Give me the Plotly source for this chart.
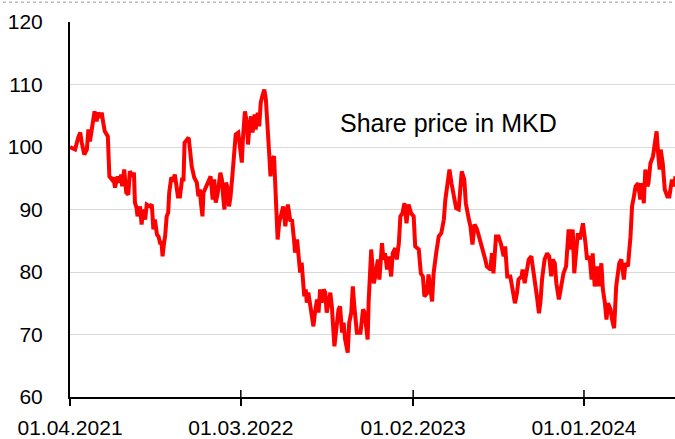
import pandas as pd
import plotly.graph_objects as go

start_date = "2021-04-01"
# days after start date
day_offset = [0, 10, 16, 20, 23, 28, 33, 36, 39, 42, 46, 48, 52, 55, 59, 62, 65, 68, 74, 75,
              77, 82, 85, 88, 93, 97, 100, 102, 106, 110, 114, 117, 123, 125, 127, 130, 132, 137, 140, 143,
              147, 150, 156, 160, 163, 166, 170, 173, 176, 179, 181, 184, 186, 189, 192, 194, 198, 202, 205, 211,
              215, 219, 222, 224, 228, 232, 235, 238, 243, 248, 251, 254, 256, 259, 261, 264, 271, 275, 279, 282,
              285, 289, 294, 297, 300, 302, 305, 309, 311, 314, 318, 321, 324, 329, 333, 336, 338, 342, 346, 348,
              351, 354, 357, 361, 363, 367, 370, 373, 376, 380, 383, 387, 389, 392, 395, 399, 401, 404, 406, 409,
              413, 417, 421, 426, 431, 434, 438, 440, 444, 447, 450, 453, 455, 458, 461, 463, 466, 470, 473, 476,
              479, 483, 486, 489, 492, 496, 499, 502, 509, 512, 517, 520, 525, 528, 532, 535, 538, 543, 546, 550,
              553, 556, 561, 568, 573, 576, 582, 584, 589, 594, 597, 602, 605, 610, 613, 616, 620, 623, 628, 631,
              636, 639, 643, 646, 650, 654, 658, 662, 667, 672, 675, 682, 686, 690, 693, 698, 701, 708, 711, 716,
              721, 726, 731, 734, 737, 742, 746, 750, 755, 760, 763, 766, 771, 774, 780, 783, 787, 791, 796, 800,
              806, 812, 815, 822, 825, 828, 833, 838, 843, 848, 851, 855, 861, 864, 870, 874, 877, 883, 885, 889,
              894, 897, 902, 905, 910, 913, 917, 920, 923, 928, 933, 937, 941, 944, 948, 951, 956, 961, 965, 970,
              975, 980, 983, 986, 990, 993, 997, 1003, 1008, 1011, 1016, 1020, 1022, 1026, 1031, 1034, 1039, 1042, 1046, 1049,
              1052, 1057, 1060, 1064, 1068, 1071, 1074, 1078, 1083, 1086, 1091, 1096, 1099, 1102, 1106, 1111, 1115, 1119, 1122, 1125,
              1129, 1131, 1135, 1140, 1147, 1150, 1153, 1155, 1159, 1163, 1168, 1172, 1177, 1181, 1184]
price = [100.0, 99.6, 101.5, 102.3, 100.7, 98.8, 99.6, 102.8, 100.9, 102.8, 105.5, 105.7, 104.1, 105.5, 104.7, 105.5, 103.9, 102.5, 101.7, 99.6,
         95.3, 94.8, 95.1, 93.5, 95.3, 94.3, 95.6, 93.7, 96.4, 92.7, 92.4, 96.1, 95.3, 95.9, 91.1, 90.3, 88.9, 90.5, 87.6, 90.0,
         88.4, 90.8, 90.5, 90.8, 86.8, 88.4, 86.0, 85.7, 84.7, 84.7, 82.5, 84.7, 85.7, 88.9, 89.5, 92.7, 95.1, 94.8, 95.6, 92.1,
         92.1, 94.8, 94.8, 100.7, 101.2, 101.5, 99.3, 96.9, 95.1, 94.3, 92.1, 93.2, 91.1, 88.9, 92.7, 93.2, 94.3, 95.3, 91.6, 94.8,
         91.1, 92.7, 95.9, 94.8, 91.6, 90.0, 94.3, 93.2, 90.5, 92.1, 95.9, 100.1, 102.0, 102.3, 99.1, 97.5, 101.2, 105.7, 103.9, 100.4,
         103.3, 104.9, 102.3, 105.2, 102.8, 105.5, 103.3, 107.1, 108.1, 109.2, 107.6, 100.1, 99.6, 95.3, 98.0, 98.5, 94.8, 90.0, 85.2, 87.9,
         89.5, 90.5, 87.3, 90.8, 88.1, 88.4, 85.2, 83.1, 85.2, 82.0, 79.9, 81.5, 78.3, 76.1, 77.2, 75.1, 76.7, 74.5, 73.5, 71.3,
         73.5, 75.6, 73.5, 77.2, 75.1, 77.2, 76.7, 73.5, 76.7, 74.5, 68.1, 70.8, 74.0, 74.5, 70.3, 71.9, 69.2, 67.1, 71.9, 73.5,
         77.7, 74.5, 70.3, 70.3, 74.0, 73.5, 69.2, 75.3, 83.6, 78.2, 79.3, 82.0, 78.8, 84.6, 82.0, 83.0, 80.4, 82.5, 79.3, 83.0,
         83.8, 82.0, 84.6, 88.9, 89.4, 91.0, 87.8, 90.8, 89.4, 88.9, 84.1, 83.6, 79.8, 79.3, 76.1, 76.6, 79.6, 75.3, 79.8, 83.0,
         85.7, 86.2, 88.4, 91.6, 93.2, 96.4, 94.2, 92.6, 90.2, 90.0, 93.7, 96.1, 94.8, 91.0, 88.4, 87.3, 84.4, 87.6, 86.8, 85.7,
         84.1, 82.0, 80.9, 80.4, 83.0, 79.8, 85.7, 85.7, 84.4, 82.5, 84.1, 79.3, 79.3, 77.7, 75.0, 76.6, 78.8, 79.3, 80.4, 78.2,
         80.9, 82.0, 82.5, 80.9, 78.2, 76.1, 73.4, 75.3, 78.8, 82.0, 83.0, 82.5, 79.3, 82.0, 81.4, 78.2, 75.6, 78.2, 79.8, 80.9,
         86.8, 83.6, 86.8, 79.8, 84.1, 86.2, 85.2, 87.8, 84.6, 82.0, 82.5, 78.8, 83.0, 77.7, 80.9, 77.7, 81.4, 77.2, 75.0, 72.4,
         75.0, 74.0, 72.4, 71.0, 77.7, 80.4, 81.4, 82.0, 78.8, 81.4, 80.9, 85.7, 90.5, 91.8, 93.7, 94.2, 91.6, 94.2, 91.0, 96.4,
         93.7, 94.2, 97.4, 98.5, 102.5, 99.0, 96.4, 99.6, 97.4, 93.2, 92.1, 92.1, 94.8, 93.7, 95.3]

tick_dates = ["2021-04-01", "2022-03-01", "2023-02-01", "2024-01-01"]
y_ticks = [60, 70, 80, 90, 100, 110, 120]
x_range = ["2021-04-01", "2024-06-27"]
label_text = "Share price in MKD"

dates = pd.Timestamp(start_date) + pd.to_timedelta(day_offset, unit="D")

fig = go.Figure()
fig.add_trace(go.Scatter(x=dates, y=price, mode="lines",
                         line=dict(color="#ff0000", width=4), hoverinfo="skip"))

font_family = "Liberation Sans, Arial, sans-serif"

fig.update_layout(
    width=675, height=439,
    margin=dict(l=70, r=0, t=22, b=41.5, autoexpand=False),
    paper_bgcolor="white", plot_bgcolor="white",
    showlegend=False,
    font=dict(family=font_family, size=21, color="black"),
    xaxis=dict(type="date", range=x_range, tickvals=tick_dates, tickformat="%d.%m.%Y",
               showgrid=False, showline=True, linecolor="black", linewidth=2,
               ticks="outside", ticklen=7, tickwidth=1.5, tickcolor="black",
               ticklabelstandoff=4, zeroline=False, automargin=False,
               tickfont=dict(family=font_family, size=21, color="black")),
    yaxis=dict(range=[60, 120], tickvals=y_ticks, showgrid=True, gridcolor="#d9d9d9", gridwidth=1,
               showline=True, linecolor="black", linewidth=2, ticks="", zeroline=False,
               ticklabelstandoff=21, automargin=False,
               tickfont=dict(family=font_family, size=21, color="black")),
    annotations=[dict(text=label_text, xref="paper", yref="paper", x=0.443, y=0.732,
                      xanchor="left", yanchor="middle", showarrow=False,
                      font=dict(family=font_family, size=25, color="black"))],
)

shapes = []
for d in tick_dates[1:]:
    shapes.append(dict(type="line", xref="x", yref="paper", x0=d, x1=d,
                       ysizemode="pixel", yanchor=0, y0=0, y1=7,
                       line=dict(color="black", width=1.5)))
shapes.append(dict(type="line", xref="paper", yref="paper", x0=-0.2, x1=1.0,
                   y0=1.053, y1=1.053, line=dict(color="#999999", width=1, dash="dot")))
fig.update_layout(shapes=shapes)

fig.write_html("out.html", config={"displayModeBar": False},
               post_script="document.body.style.margin='0px';")
